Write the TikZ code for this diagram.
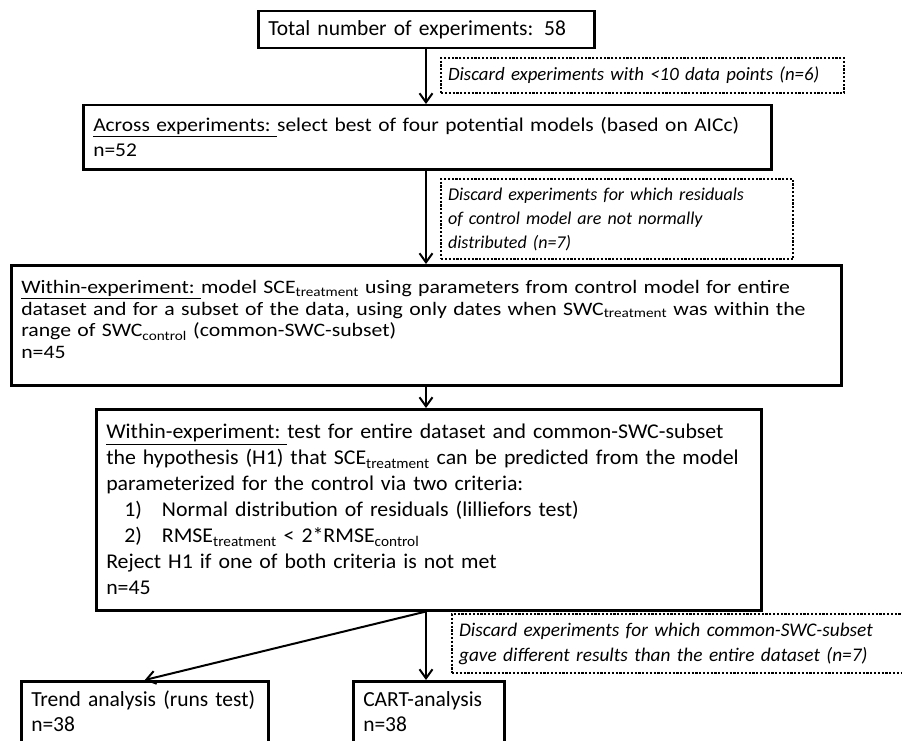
\documentclass[tikz,border=0pt]{standalone}
\usepackage{fontspec}
\setmainfont{Carlito}
\newfontfamily\acrossfont[FakeStretch=1.1]{Carlito}
\newfontfamily\modelfont[FakeStretch=1.145]{Carlito}
\newfontfamily\testfont[FakeStretch=1.04]{Carlito}
\usetikzlibrary{arrows.meta,positioning}
\tikzset{
stepbox/.style={
  draw=black,
  line width=2.5pt,
  anchor=north west,
  align=left,
  inner xsep=10pt,
  inner ysep=0pt
  },
endbox/.style={
  stepbox,
  inner ysep=10pt,
  font=\fontsize{21.5}{25}\selectfont
  },
dropbox/.style={
  draw=black,
  line width=2.2pt,
  dash pattern=on 2.2pt off 1.6pt,
  anchor=north west,
  align=left,
  inner xsep=7pt,
  inner ysep=0pt,
  font=\itshape\fontsize{18}{24}\selectfont
  },
flow/.style={
  line width=2pt,
  -{Straight Barb[length=9pt,width=13pt,line width=2pt]}
  }
}
\newcommand{\sub}[1]{\textsubscript{#1}}

\begin{document}
\begin{tikzpicture}[x=1pt,y=-1pt]
\useasboundingbox (0,0) rectangle (902,741);
\clip (0,0) rectangle (902,741);
\coordinate (spine) at (426,0);

% main steps
\node[stepbox, text width=316pt, minimum height=37pt,
  font=\fontsize{21.5}{26}\selectfont] (total) at (257,10)
  {Total number of experiments: 58};

\node[stepbox, text width=668pt, minimum height=64pt,
  font=\acrossfont\fontsize{19.5}{25}\selectfont] (across) at (82,104)
  {\underline{Across experiments:\ }select best of four potential models (based on AICc)\\
   n=52};

\node[stepbox, text width=810pt, minimum height=120pt,
  font=\modelfont\fontsize{19}{21.5}\selectfont] (model) at (10,264)
  {\underline{Within-experiment:\ }model SCE\sub{treatment} using parameters from control model for entire\\
   dataset and for a subset of the data, using only dates when SWC\sub{treatment} was within the\\
   range of SWC\sub{control} (common-SWC-subset)\\
   n=45\\[-10pt]
   \mbox{}};

\node[stepbox, text width=645pt, minimum height=201pt,
  font=\testfont\fontsize{21}{26}\selectfont] (test) at (95,408)
  {\underline{Within-experiment:\ }test for entire dataset and common-SWC-subset\\
   the hypothesis (H1) that SCE\sub{treatment} can be predicted from the model\\
   parameterized for the control via two criteria:\\
   \hspace*{18pt}1)\hspace*{20pt}Normal distribution of residuals (lilliefors test)\\
   \hspace*{18pt}2)\hspace*{20pt}RMSE\sub{treatment} < 2*RMSE\sub{control}\\
   Reject H1 if one of both criteria is not met\\
   n=45};

\node[endbox, text width=227pt] (trend) at (20,680)
  {Trend analysis (runs test)\\ n=38\\ \mbox{}};

\node[endbox, text width=131pt] (cart) at (352,680)
  {CART-analysis\\ n=38\\ \mbox{}};

% discarded experiments
\node[dropbox, text width=389pt, minimum height=35pt,
  font=\itshape\fontsize{18.8}{24}\selectfont] (drop1) at (440,57)
  {Discard experiments with <10 data points (n=6)};

\node[dropbox, text width=338pt, minimum height=80pt] (drop2) at (440,178)
  {Discard experiments for which residuals\\
   of control model are not normally\\
   distributed (n=7)};

\node[dropbox, text width=460pt, minimum height=59pt,
  font=\itshape\fontsize{19.3}{25}\selectfont] (drop3) at (451,613)
  {Discard experiments for which common-SWC-subset\\
   gave different results than the entire dataset (n=7)};

% connectors
\draw[flow] (total.south -| spine) -- (spine |- across.north);
\draw[flow] (across.south -| spine) -- (spine |- model.north);
\draw[flow] (model.south -| spine) -- (spine |- test.north);
\draw[flow] (test.south -| spine) -- (spine |- cart.north);
\draw[flow] (test.south -| spine) -- (trend.north);

\end{tikzpicture}
\end{document}
